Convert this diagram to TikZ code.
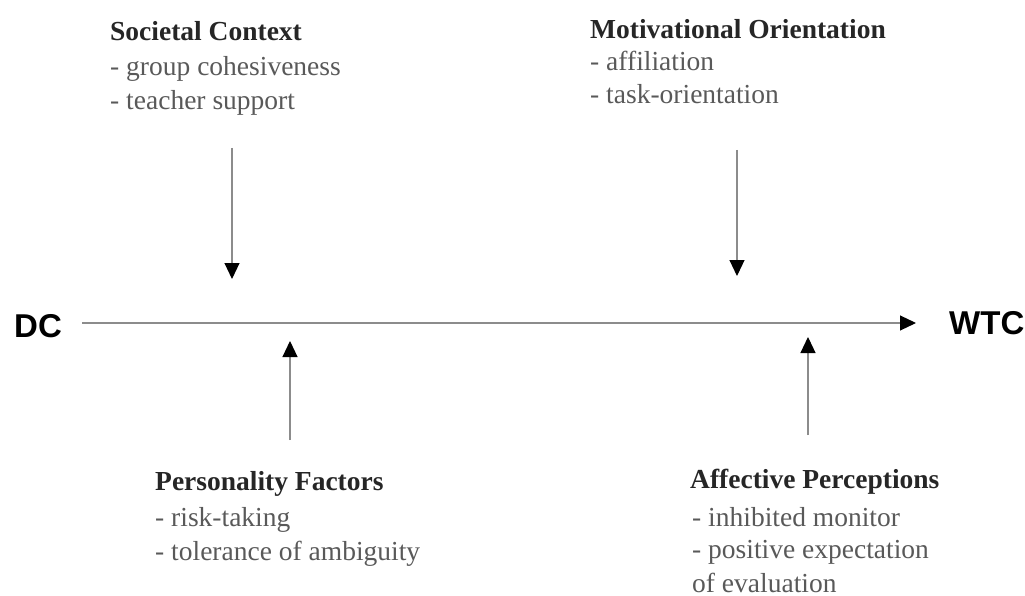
\documentclass[tikz,border=0pt]{standalone}
\usepackage{fontspec}
\setmainfont{Liberation Serif}
\newfontfamily\labelfont{Liberation Sans}
\usetikzlibrary{arrows.meta}
\tikzset{
  title/.style={anchor=base west, inner sep=0pt, text=black!85, font=\fontsize{27.5}{33}\selectfont\bfseries},
  item/.style={anchor=base west, inner sep=0pt, text=black!65, font=\fontsize{27.5}{33}\selectfont},
  endlabel/.style={inner sep=0pt, text=black, font=\labelfont\fontsize{33}{38}\selectfont\bfseries},
  conn/.style={draw=black!45, line width=1.1pt, -{Triangle[width=15pt,length=16pt,color=black]}}
}
\begin{document}
\begin{tikzpicture}[x=1pt,y=-1pt]
\useasboundingbox (0,0) rectangle (1025,596);
% top-left block
\node[title] (st) at (110,41) {Societal Context};
\node[item] (s1) at (110,76) {- group cohesiveness};
\node[item] (s2) at (110,110) {- teacher support};
% top-right block
\node[title] (mt) at (590,39) {Motivational Orientation};
\node[item] (m1) at (590,71) {- affiliation};
\node[item] (m2) at (590,104) {- task-orientation};
% bottom-left block
\node[title] (pt) at (155,490) {Personality Factors};
\node[item] (p1) at (155,526) {- risk-taking};
\node[item] (p2) at (155,560) {- tolerance of ambiguity};
% bottom-right block
\node[title] (at) at (690,488) {Affective Perceptions};
\node[item] (a1) at (692,526) {- inhibited monitor};
\node[item] (a2) at (692,558) {- positive expectation};
\node[item] (a3) at (692,592) {of evaluation};
% DC and WTC
\node[endlabel, anchor=west] (dc) at (14,326) {DC};
\node[endlabel, anchor=west] (wtc) at (949,323) {WTC};
% main line
\coordinate (ls) at (82,323);
\coordinate (le) at (916,323);
\draw[conn] (ls) -- (le);
% vertical arrows
\coordinate (sA) at (232,148);
\coordinate (sB) at (232,279);
\coordinate (mA) at (737,150);
\coordinate (mB) at (737,276);
\coordinate (pA) at (290,440);
\coordinate (pB) at (290,341);
\coordinate (aA) at (808,435);
\coordinate (aB) at (808,337);
\draw[conn] (sA) -- (sB);
\draw[conn] (mA) -- (mB);
\draw[conn] (pA) -- (pB);
\draw[conn] (aA) -- (aB);
\end{tikzpicture}
\end{document}
